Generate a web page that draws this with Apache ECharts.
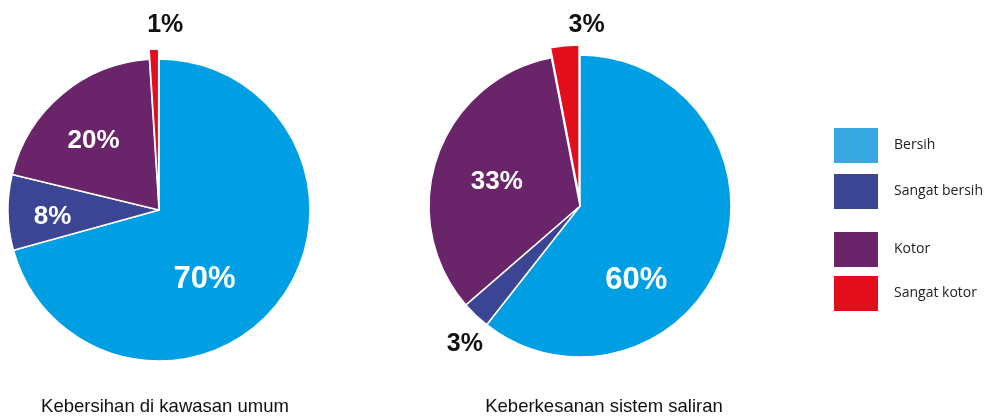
<!DOCTYPE html>
<html><head><meta charset="utf-8">
<script src="https://cdn.jsdelivr.net/npm/echarts@6/dist/echarts.min.js"></script>
<style>html,body{margin:0;padding:0;background:#fff}#c{width:991px;height:417px}</style>
</head><body><div id="c"></div>
<script>
var categories = ['Bersih', 'Sangat bersih', 'Kotor', 'Sangat kotor'];
var valuesPublic = [70, 8, 20, 1];
var valuesDrain = [60, 3, 33, 3];
var chartTitles = ['Kebersihan di kawasan umum', 'Keberkesanan sistem saliran'];

var colors = ['#009fe3', '#3b4594', '#69246a', '#e30e1b'];
var legendColors = ['#38a9e0', '#3b4594', '#69246a', '#e30e1b'];

// label tweaks (style only)
var leftOffsets = [[-17, 22], [-28, 6], [-15, -9], [9, -96]];
var rightOffsets = [[-18, 49], [-61, 81], [-9, 2], [15, -93]];
var labelDark = [false, false, false, true];
var rightDark = [false, true, false, true];

function buildData(vals, dark) {
  return categories.map(function (n, i) {
    return {
      name: n, value: vals[i], selected: i === 3,
      itemStyle: { color: colors[i] },
      label: {
        color: dark[i] ? '#111' : '#fff',
        fontSize: i === 0 ? 31 : (dark[i] ? 25 : 26)
      }
    };
  });
}
function layoutFn(offs) {
  return function (p) { return { dx: offs[p.dataIndex][0], dy: offs[p.dataIndex][1] }; };
}
function pie(center, vals, dark, offs) {
  return {
    type: 'pie', center: center, radius: 151, startAngle: 90, clockwise: true,
    selectedMode: 'single', selectedOffset: 10, animation: false, silent: true,
    itemStyle: { borderColor: '#fff', borderWidth: 1.5 },
    label: {
      show: true, position: 'inside', formatter: '{c}%',
      fontFamily: 'Liberation Sans, Arial, sans-serif', fontWeight: 'bold'
    },
    labelLine: { show: false },
    labelLayout: layoutFn(offs),
    emphasis: { disabled: true },
    data: buildData(vals, dark)
  };
}
function legendData(names) {
  return names.map(function (n) {
    var i = categories.indexOf(n);
    return { name: n, itemStyle: { color: legendColors[i] } };
  });
}
var legendText = { fontFamily: 'Open Sans, Noto Sans, sans-serif', fontSize: 14, color: '#222', padding: [0, 0, 0, 10] };
var captionStyle = { fontFamily: 'Liberation Sans, Arial, sans-serif', fontWeight: 'normal', fontSize: 18.5, color: '#111' };
var chart = echarts.init(document.getElementById('c'), null, { renderer: 'canvas' });
chart.setOption({
  animation: false,
  title: [
    { text: chartTitles[0], left: 160, top: 392, textAlign: 'center', textStyle: captionStyle },
    { text: chartTitles[1], left: 599, top: 392, textAlign: 'center', textStyle: captionStyle }
  ],
  legend: [
    { data: legendData(categories.slice(0, 2)), orient: 'vertical', left: 827, top: 121,
      itemWidth: 46, itemHeight: 37, itemGap: 7, icon: 'rect', selectedMode: false, textStyle: legendText },
    { data: legendData(categories.slice(2)), orient: 'vertical', left: 827, top: 225,
      itemWidth: 46, itemHeight: 37, itemGap: 5, icon: 'rect', selectedMode: false, textStyle: legendText }
  ],
  series: [
    pie([159, 210], valuesPublic, labelDark, leftOffsets),
    pie([580, 206], valuesDrain, rightDark, rightOffsets)
  ]
});
</script></body></html>
